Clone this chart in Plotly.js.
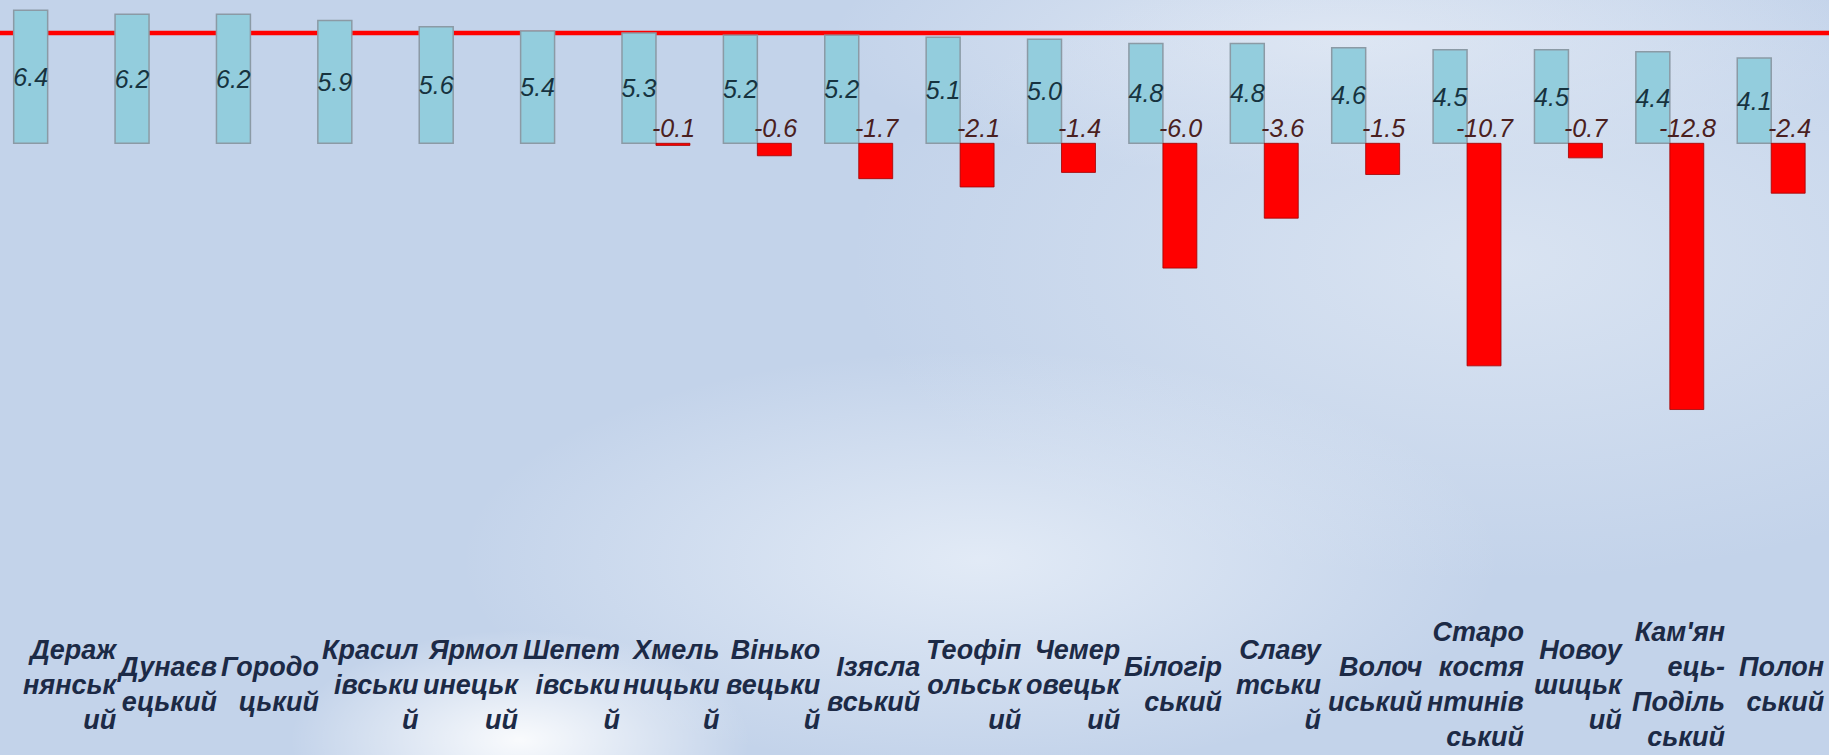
<!DOCTYPE html>
<html>
<head>
<meta charset="utf-8">
<script src="https://cdn.plot.ly/plotly-3.0.1.min.js"></script>
<style>
  html, body { margin: 0; padding: 0; }
  body {
    width: 1829px; height: 755px; overflow: hidden;
    background:
      radial-gradient(ellipse 230px 110px at 520px 740px, rgba(255,255,255,0.9), rgba(255,255,255,0) 100%),
      radial-gradient(ellipse 520px 210px at 980px 560px, rgba(236,242,250,0.75), rgba(236,242,250,0) 100%),
      radial-gradient(ellipse 650px 320px at 1500px 260px, rgba(218,228,242,0.95), rgba(218,228,242,0) 100%),
      radial-gradient(ellipse 520px 140px at 1350px 40px, rgba(224,232,244,0.95), rgba(224,232,244,0) 100%),
      #c3d3ea;
  }
  #chart { width: 1829px; height: 755px; }
</style>
</head>
<body>
<div id="chart"></div>
<script>
// ---- data ----
const categories = [
  "Деражнянський", "Дунаєвецький", "Городоцький", "Красилівський", "Ярмолинецький",
  "Шепетівський", "Хмельницький", "Віньковецький", "Ізяславський", "Теофіпольський",
  "Чемеровецький", "Білогірський", "Славутський", "Волочиський", "Старокостянтинівський",
  "Новоушицький", "Кам'янець-Подільський", "Полонський"
];
const tickLabels = [
  "Дераж<br>нянськ<br>ий", "Дунаєв<br>ецький", "Городо<br>цький", "Красил<br>івськи<br>й",
  "Ярмол<br>инецьк<br>ий", "Шепет<br>івськи<br>й", "Хмель<br>ницьки<br>й", "Вінько<br>вецьки<br>й",
  "Ізясла<br>вський", "Теофіп<br>ольськ<br>ий", "Чемер<br>овецьк<br>ий", "Білогір<br>ський",
  "Славу<br>тськи<br>й", "Волоч<br>иський", "Старо<br>костя<br>нтинів<br>ський", "Новоу<br>шицьк<br>ий",
  "Кам'ян<br>ець-<br>Поділь<br>ський", "Полон<br>ський"
];
const positiveValues = [6.4, 6.2, 6.2, 5.9, 5.6, 5.4, 5.3, 5.2, 5.2, 5.1, 5.0, 4.8, 4.8, 4.6, 4.5, 4.5, 4.4, 4.1];
const negativeValues = [null, null, null, null, null, null, -0.1, -0.6, -1.7, -2.1, -1.4, -6.0, -3.6, -1.5, -10.7, -0.7, -12.8, -2.4];
const regionAverage = 5.3;

// ---- styles ----
const valueFont = "'Liberation Sans', Arial, sans-serif";
const labelFont = "'Liberation Sans', Arial, sans-serif";

const traces = [
  {
    type: "bar",
    x: categories,
    y: positiveValues,
    marker: { color: "#93cddd", line: { color: "#8b9aa5", width: 1.5 } },
    text: positiveValues.map(v => v.toFixed(1)),
    textposition: "inside",
    insidetextanchor: "middle",
    textangle: 0,
    constraintext: "none",
    textfont: { family: valueFont, size: 25, color: "#17333f", style: "italic" },
    hoverinfo: "x+y"
  },
  {
    type: "bar",
    x: categories,
    y: negativeValues,
    marker: { color: "#ff0000", line: { color: "#a00000", width: 0.8 } },
    hoverinfo: "x+y"
  }
];

const annotations = [];
categories.forEach((c, i) => {
  annotations.push({
    x: c, xref: "x", y: 0.093, yref: "paper",
    text: tickLabels[i], showarrow: false,
    xanchor: "right", yanchor: "middle", align: "right", xshift: 72 - i * 0.95,
    font: { family: labelFont, size: 27, color: "#1c2a46", weight: "bold", style: "italic" }
  });
  if (negativeValues[i] !== null) {
    annotations.push({
      x: c, xref: "x", y: 0, yref: "y",
      text: negativeValues[i].toFixed(1), showarrow: false,
      xanchor: "center", yanchor: "bottom", xshift: 18, yshift: -1,
      font: { family: valueFont, size: 25, color: "#4a2020", style: "italic" }
    });
  }
});

const layout = {
  width: 1829, height: 755,
  margin: { l: 0, r: 0, t: 0, b: 0 },
  paper_bgcolor: "rgba(0,0,0,0)",
  plot_bgcolor: "rgba(0,0,0,0)",
  barmode: "group", bargap: 0.33, bargroupgap: 0,
  showlegend: false,
  xaxis: { type: "category", range: [-0.47, 17.57], showticklabels: false, showgrid: false, zeroline: false, showline: false, ticks: "" },
  yaxis: { range: [-29.41, 6.89], visible: false, showgrid: false, zeroline: false },
  shapes: [{
    type: "line", xref: "paper", x0: 0, x1: 1, yref: "y", y0: regionAverage, y1: regionAverage,
    line: { color: "#ff0000", width: 4.5 }, layer: "below"
  }],
  annotations: annotations
};

Plotly.newPlot("chart", traces, layout, { displayModeBar: false, staticPlot: true });
</script>
</body>
</html>
